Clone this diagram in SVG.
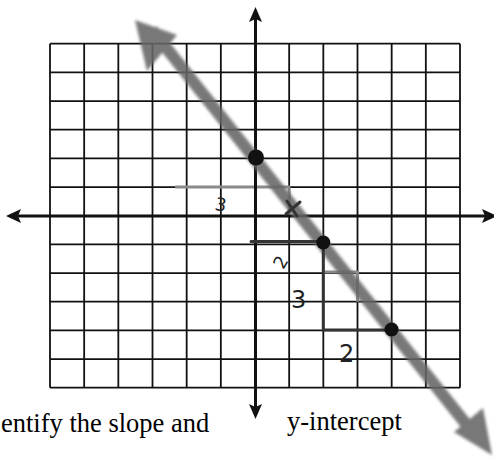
<svg xmlns="http://www.w3.org/2000/svg" width="494" height="457" viewBox="0 0 494 457">
<defs>
<style>
.grid{stroke:#111;stroke-width:1.8;fill:none}
.axis{stroke:#111;stroke-width:3;fill:none}
.head{fill:#111}
.pen{stroke:#333;stroke-width:3;fill:none;stroke-linecap:round}
.hl{stroke:#8a8a8a;stroke-width:3;fill:none}
.hand{font-family:"DejaVu Sans",sans-serif;fill:#222}
.print{font-family:"Liberation Serif",serif;font-size:26.5px;fill:#000}
</style>
<filter id="soft" x="-10%" y="-10%" width="120%" height="120%"><feGaussianBlur stdDeviation="1.4"/></filter>
</defs>
<rect width="494" height="457" fill="#fff"/>
<g id="grid">
<path class="grid" d="M50 43.7V387.7M84.17 43.7V387.7M118.33 43.7V387.7M152.5 43.7V387.7M186.67 43.7V387.7M220.83 43.7V387.7M289.17 43.7V387.7M323.33 43.7V387.7M357.5 43.7V387.7M391.67 43.7V387.7M425.83 43.7V387.7M460 43.7V387.7"/>
<path class="grid" d="M50 43.7H460M50 72.37H460M50 101.03H460M50 129.7H460M50 158.37H460M50 187.03H460M50 244.37H460M50 273.03H460M50 301.7H460M50 330.37H460M50 359.03H460M50 387.7H460"/>
</g>
<g id="highlights">
<path class="hl" d="M175 187H290M289.2 187V216M323.3 272H357.5V301.7"/>
</g>
<g id="axes">
<path class="axis" d="M14 216H488M255.5 16V410"/>
<polygon class="head" points="6,216 21,209 18,216 21,223"/>
<polygon class="head" points="497,216 482,209 485,216 482,223"/>
<polygon class="head" points="255.5,7 249,22 255.5,19 262,22"/>
<polygon class="head" points="255.5,419 249,404 255.5,407 262,404"/>
</g>
<g id="line" filter="url(#soft)" opacity="0.88">
<path d="M152 30L474 434" stroke="#666" stroke-width="12" fill="none"/>
<polygon points="135,20 177,35 147,71" fill="#666"/>
<polygon points="492,455 483,408 454,432" fill="#666"/>
</g>
<g id="slope-marks">
<path class="pen" d="M251 241.5H323.3M323.3 243V330H391.5"/>
<path class="pen" d="M286 214L300 202M287 201L297 216" stroke-width="2"/>
</g>
<g id="points">
<circle cx="256" cy="157.5" r="8" fill="#111"/>
<circle cx="323.3" cy="242.5" r="7" fill="#111"/>
<circle cx="391.5" cy="329.5" r="7" fill="#111"/>
</g>
<g id="hand-labels">
<text class="hand" x="215" y="211" font-size="18" transform="rotate(10 221 205)">3</text>
<text class="hand" x="275" y="268" font-size="18" transform="rotate(-60 281 262)">2</text>
<text class="hand" x="291" y="308" font-size="24">3</text>
<text class="hand" x="339" y="362" font-size="24">2</text>
</g>
<g id="caption">
<text class="print" x="1" y="432">entify the slope and</text>
<text class="print" x="287" y="430">y-intercept</text>
</g>
</svg>
